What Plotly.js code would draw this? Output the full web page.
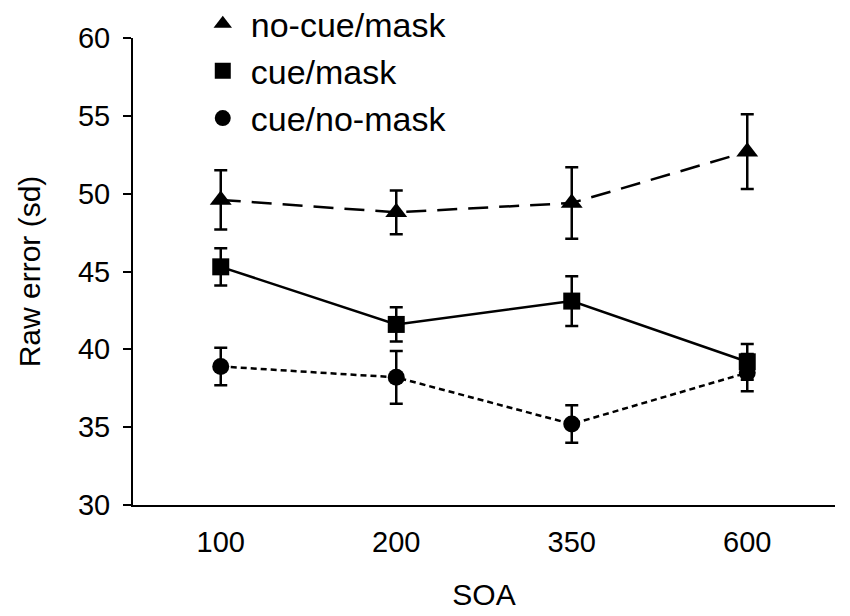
<!DOCTYPE html>
<html>
<head>
<meta charset="utf-8">
<script src="https://cdn.plot.ly/plotly-3.0.1.min.js"></script>
<style>
  html, body { margin: 0; padding: 0; background: #fff; }
  #chart { width: 850px; height: 616px; }
</style>
</head>
<body>
<div id="chart"></div>
<script>
/***** raw error by SOA *****/
var soa = ['100', '200', '350', '600'];

var noCueMask = [49.6, 48.8, 49.4, 52.7];
var noCueMaskErr = [1.9, 1.4, 2.3, 2.4];

var cueMask = [45.3, 41.6, 43.1, 39.2];
var cueMaskErr = [1.2, 1.1, 1.6, 1.15];

var cueNoMask = [38.9, 38.2, 35.2, 38.5];
var cueNoMaskErr = [1.2, 1.7, 1.2, 1.2];

var yTicks = [30, 35, 40, 45, 50, 55, 60];

var font = 'Liberation Sans, Arial, sans-serif';

function errBars(arr) {
  return { type: 'data', array: arr, visible: true, color: '#000', thickness: 2.5, width: 6.5 };
}

var trNoCue = {
  x: soa, y: noCueMask, error_y: errBars(noCueMaskErr),
  type: 'scatter', mode: 'lines+markers', showlegend: false,
  line: { color: '#000', width: 2.5, dash: '20px,11px' },
  marker: { symbol: 'triangle-up', size: 19, color: '#000' }
};

var trCueMask = {
  x: soa, y: cueMask, error_y: errBars(cueMaskErr),
  type: 'scatter', mode: 'lines+markers', showlegend: false,
  line: { color: '#000', width: 2.5 },
  marker: { symbol: 'square', size: 17, color: '#000' }
};

var trCueNoMask = {
  x: soa, y: cueNoMask, error_y: errBars(cueNoMaskErr),
  type: 'scatter', mode: 'lines+markers', showlegend: false,
  line: { color: '#000', width: 2.5, dash: '6px,4px' },
  marker: { symbol: 'circle', size: 17, color: '#000' }
};

// legend-only entries (marker without line)
function legendEntry(name, symbol, size) {
  return {
    x: [null], y: [null], type: 'scatter', mode: 'markers', name: name,
    legendgroup: name,
    marker: { symbol: symbol, size: size, color: '#000' }
  };
}

var data = [
  trCueNoMask, trCueMask, trNoCue,
  legendEntry('no-cue/mask', 'triangle-up', 16),
  legendEntry('cue/mask', 'square', 16),
  legendEntry('cue/no-mask', 'circle', 16)
];

var layout = {
  width: 850,
  height: 616,
  margin: { l: 133, r: 15, t: 38, b: 111, autoexpand: false },
  paper_bgcolor: '#fff',
  plot_bgcolor: '#fff',
  font: { family: font, color: '#000', size: 29 },
  showlegend: true,
  legend: {
    x: 0.088, y: 1.092, xanchor: 'left', yanchor: 'top',
    font: { size: 34, family: font },
    bgcolor: 'rgba(0,0,0,0)',
    tracegroupgap: 0,
    itemwidth: 46
  },
  xaxis: {
    type: 'category',
    range: [-0.5, 3.5],
    showline: true, linecolor: '#000', linewidth: 2,
    ticks: '', showgrid: false, zeroline: false,
    tickfont: { size: 29 },
    ticklabelstandoff: 10,
    title: { text: 'SOA', font: { size: 30 }, standoff: 27 },
    automargin: false
  },
  yaxis: {
    range: [30, 60],
    tickvals: yTicks,
    showline: true, linecolor: '#000', linewidth: 2,
    ticks: 'outside', ticklen: 8, tickwidth: 2, tickcolor: '#000',
    showgrid: false, zeroline: false,
    tickfont: { size: 29 },
    ticklabelstandoff: 7,
    title: { text: 'Raw error (sd)', font: { size: 30 }, standoff: 28 },
    automargin: false
  }
};

var config = { displayModeBar: false, staticPlot: true };

Plotly.newPlot('chart', data, layout, config);
</script>
</body>
</html>
